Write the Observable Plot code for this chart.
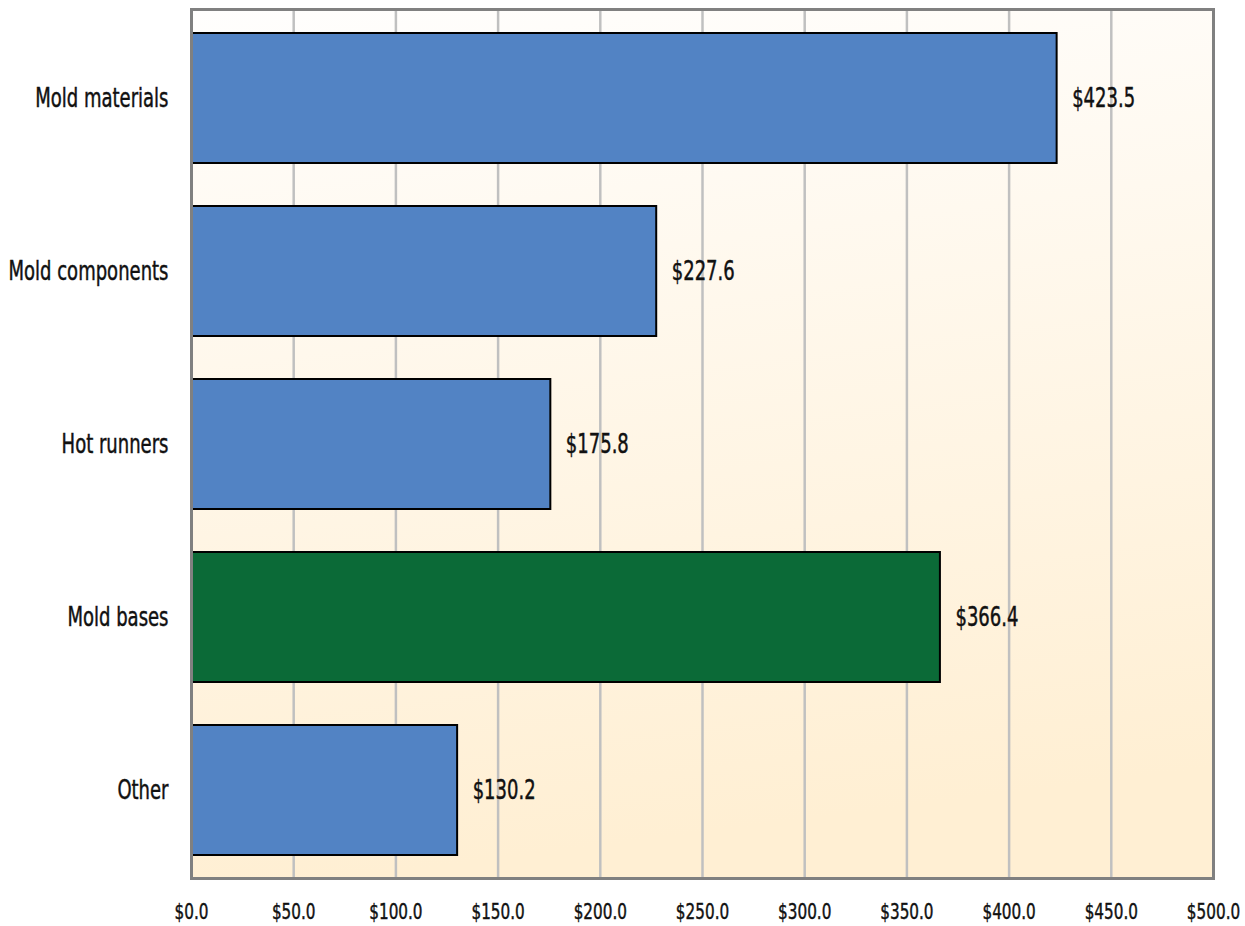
<!DOCTYPE html>
<html>
<head>
<meta charset="utf-8">
<script src="https://cdn.jsdelivr.net/npm/d3@7"></script>
<script src="https://cdn.jsdelivr.net/npm/@observablehq/plot@0.6"></script>
<style>
  html, body { margin: 0; padding: 0; background: #ffffff; }
  #chart { width: 1245px; height: 926px; }
  svg { display: block; }
  svg text { stroke: #111; stroke-width: 0.45px; }
</style>
</head>
<body>
<div id="chart"></div>
<script>
const categories = ["Mold materials", "Mold components", "Hot runners", "Mold bases", "Other"];
const values = [423.5, 227.6, 175.8, 366.4, 130.2];
const highlighted = ["Mold bases"];
const xTicks = [0, 50, 100, 150, 200, 250, 300, 350, 400, 450, 500];

const data = categories.map((c, i) => ({category: c, value: values[i], hi: highlighted.includes(c)}));
const money = d => "$" + d.toFixed(1);
const FONT = "'DejaVu Sans Condensed', 'Liberation Sans Narrow', sans-serif";

const chart = Plot.plot({
  width: 1245,
  height: 926,
  marginLeft: 191,
  marginRight: 32,
  marginTop: 9,
  marginBottom: 48,
  style: {fontFamily: FONT, fontSize: "22px", color: "#111", background: "transparent"},
  x: {domain: [0, 500], ticks: xTicks, tickFormat: money},
  y: {domain: categories, paddingInner: 0.25, paddingOuter: 0.125},
  marks: [
    Plot.frame({fill: "url(#bgGrad)", stroke: null}),
    Plot.ruleX(xTicks.slice(1, -1), {stroke: "#c0c0c0", strokeWidth: 2.5}),
    Plot.barX(data, {
      y: "category", x: "value",
      fill: d => d.hi ? "#0b6a37" : "#5283c4",
      stroke: "#000", strokeWidth: 2
    }),
    Plot.text(data, {
      y: "category", x: "value", text: d => money(d.value),
      textAnchor: "start", dx: 15, fontSize: 26, fill: "#111"
    }),
    Plot.frame({stroke: "#808080", strokeWidth: 3}),
    Plot.axisX({ticks: xTicks, tickFormat: money, tickSize: 0, tickPadding: 25, fontSize: 22, label: null}),
    Plot.axisY({tickSize: 0, tickPadding: 23, fontSize: 26, label: null})
  ]
});

const svg = d3.select(chart);
const defs = svg.insert("defs", ":first-child");
const g = defs.append("linearGradient").attr("id", "bgGrad")
  .attr("x1", "0").attr("y1", "0").attr("x2", "0.15").attr("y2", "1");
g.append("stop").attr("offset", "0%").attr("stop-color", "#fffefd");
g.append("stop").attr("offset", "100%").attr("stop-color", "#ffefd3");

document.getElementById("chart").appendChild(chart);

// condense glyphs horizontally to mimic the narrow typeface
svg.selectAll("text").each(function () {
  const L = this.getComputedTextLength();
  if (L > 0) {
    this.setAttribute("textLength", (L * 0.77).toFixed(1));
    this.setAttribute("lengthAdjust", "spacingAndGlyphs");
  }
});
</script>
</body>
</html>
